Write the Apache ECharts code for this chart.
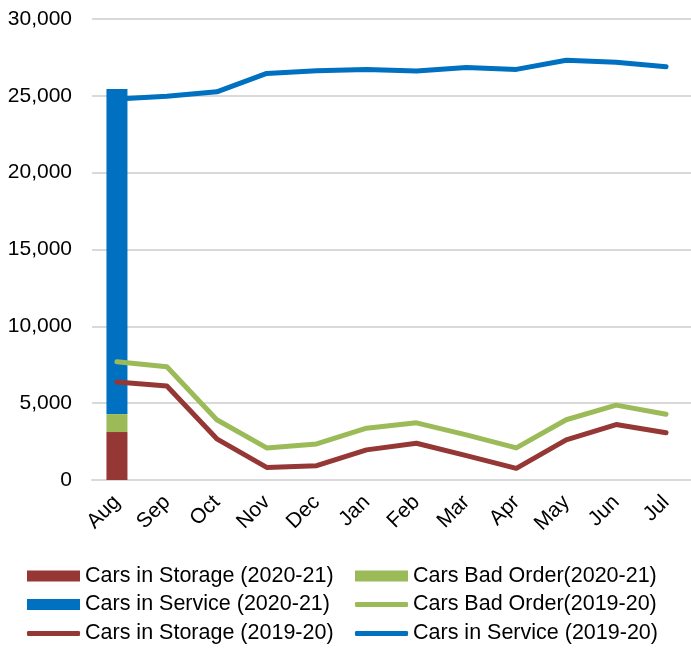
<!DOCTYPE html>
<html><head><meta charset="utf-8">
<script src="https://cdn.jsdelivr.net/npm/echarts@6/dist/echarts.min.js"></script>
<style>html,body{margin:0;padding:0;background:#fff}#c{width:691px;height:648px}</style>
</head><body><div id="c"></div>
<script>
var months = ['Aug','Sep','Oct','Nov','Dec','Jan','Feb','Mar','Apr','May','Jun','Jul'];
var storage2021 = [3120, null, null, null, null, null, null, null, null, null, null, null];
var badOrder2021 = [1170, null, null, null, null, null, null, null, null, null, null, null];
var service2021 = [21150, null, null, null, null, null, null, null, null, null, null, null];
var badOrder1920 = [7700, 7370, 3920, 2090, 2350, 3370, 3720, 2940, 2090, 3920, 4870, 4280];
var storage1920 = [6380, 6120, 2680, 820, 930, 1960, 2390, 1590, 760, 2610, 3610, 3070];
var service1920 = [24790, 24980, 25260, 26460, 26630, 26720, 26610, 26850, 26720, 27320, 27190, 26890];
var yTicks = [0, 5000, 10000, 15000, 20000, 25000, 30000];

var RED = '#953735', GREEN = '#9BBB59', BLUE = '#0070C0';
var FONT = 'Liberation Sans, Arial, sans-serif';
var chart = echarts.init(document.getElementById('c'), null, {renderer: 'canvas'});
function lineSeries(name, data, color) {
  return {name: name, type: 'line', data: data, symbol: 'none', showSymbol: false, z: 5,
    lineStyle: {color: color, width: 5, cap: 'round', join: 'round'},
    itemStyle: {color: color}};
}
function barSeries(name, data, color) {
  return {name: name, type: 'bar', stack: 'b', data: data, barWidth: 21,
    itemStyle: {color: color}};
}
var legendText = {fontFamily: FONT, fontSize: 21.5, color: '#000', padding: [0, 0, 0, 0]};
function legendItem(name, left, cy, isLine) {
  return {orient: 'horizontal', left: left, top: cy - 12, height: 24, padding: 0,
    itemWidth: 53, itemHeight: isLine ? 5 : 11, itemGap: 0,
    textStyle: legendText, selectedMode: false,
    data: [{name: name, icon: isLine ? 'roundRect' : 'rect'}]};
}
chart.setOption({
  animation: false,
  textStyle: {fontFamily: FONT},
  grid: {left: 92, width: 606, top: 19, bottom: 168, containLabel: false},
  legend: [
    legendItem('Cars in Storage (2020-21)', 27, 577, false),
    legendItem('Cars in Service (2020-21)', 27, 605.5, false),
    legendItem('Cars in Storage (2019-20)', 27, 634.5, true),
    legendItem('Cars Bad Order(2020-21)', 355, 577, false),
    legendItem('Cars Bad Order(2019-20)', 355, 605.5, true),
    legendItem('Cars in Service (2019-20)', 355, 634.5, true)
  ],
  xAxis: {type: 'category', data: months, boundaryGap: true,
    axisLine: {show: true, lineStyle: {color: '#d9d9d9', width: 2}},
    axisTick: {show: false},
    axisLabel: {rotate: 45, fontSize: 21, color: '#000', fontFamily: FONT, margin: 19, interval: 0}},
  yAxis: {type: 'value', min: 0, max: 30000, interval: 5000,
    axisLine: {show: false}, axisTick: {show: false},
    splitLine: {lineStyle: {color: '#d9d9d9', width: 2}},
    axisLabel: {fontSize: 21, color: '#000', fontFamily: FONT, margin: 20,
      formatter: function (v) { return yTicks.indexOf(v) >= 0 ? v.toLocaleString('en-US') : ''; }}},
  series: [
    barSeries('Cars in Storage (2020-21)', storage2021, RED),
    barSeries('Cars Bad Order(2020-21)', badOrder2021, GREEN),
    barSeries('Cars in Service (2020-21)', service2021, BLUE),
    lineSeries('Cars Bad Order(2019-20)', badOrder1920, GREEN),
    lineSeries('Cars in Storage (2019-20)', storage1920, RED),
    lineSeries('Cars in Service (2019-20)', service1920, BLUE)
  ]
});
</script></body></html>
